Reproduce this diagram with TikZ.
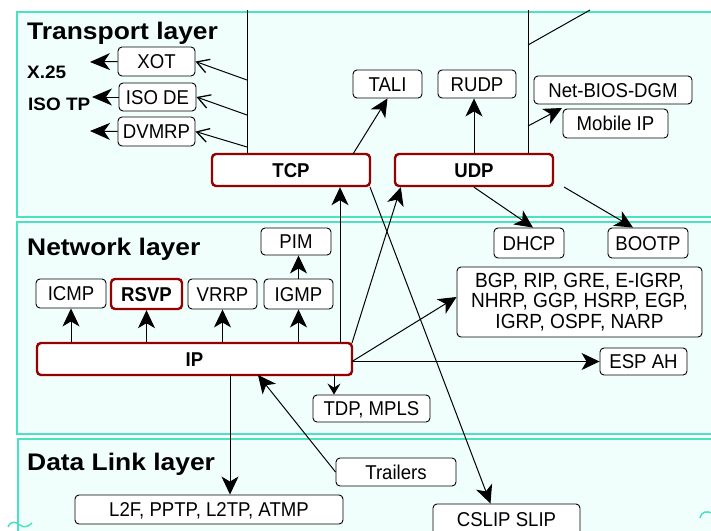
\documentclass[tikz,border=0pt]{standalone}
\usepackage{fontspec}
\setmainfont{Liberation Sans}
\newfontfamily\boxfont[FakeStretch=0.93]{Liberation Sans}
\newfontfamily\titlefont[FakeStretch=1.1]{Liberation Sans}
\newfontfamily\labfont[FakeStretch=1.05]{Liberation Sans}
\usetikzlibrary{arrows.meta,calc}
\definecolor{panelline}{RGB}{72,226,196}
\definecolor{panelfill}{RGB}{240,255,251}
\definecolor{darkred}{RGB}{150,0,0}
\tikzset{
  panel/.style={draw=panelline, line width=2pt, fill=panelfill},
  bx/.style={draw=black, line width=0.9pt, fill=white, rounded corners=4pt, inner sep=0pt,
    font=\boxfont\fontsize{20}{20}\selectfont},
  pbox/.style={bx, text height=14pt, text depth=0pt},
  rbox/.style={bx, draw=darkred, line width=2.4pt, text height=14pt, text depth=0pt,
    font=\boxfont\bfseries\fontsize{20}{20}\selectfont},
  title/.style={inner sep=0pt, anchor=base west, font=\titlefont\bfseries\fontsize{24}{24}\selectfont},
  lab/.style={inner sep=0pt, anchor=base west, font=\labfont\bfseries\fontsize{18}{18}\selectfont},
  ln/.style={draw=black, line width=1pt},
  big/.style={-{Stealth[length=18pt,width=17pt,inset=5pt]}},
  bigl/.style={-{Stealth[length=20pt,width=17pt,inset=6pt]}},
  small/.style={-{Stealth[length=11pt,width=13pt,inset=4pt]}},
  barb/.style={-{Straight Barb[length=12pt,width=14pt,line width=1.3pt]}},
  squig/.style={draw=panelline, line width=1.5pt}
}
\begin{document}
\begin{tikzpicture}[x=1pt,y=-1pt]
\useasboundingbox (0,0) rectangle (711,530);
\begin{scope}
\clip (0,0) rectangle (711,530);
% layer panels
\draw[panel] (17,12) rectangle (730,217);
\draw[panel] (17,222) rectangle (730,434);
\draw[panel] (18,439) rectangle (730,560);
\draw[squig] (8,527) .. controls (11,520) and (16,522) .. (20,525) .. controls (24,528) and (28,527) .. (32,523);
\draw[squig] (700,518) .. controls (702,511) and (706,511) .. (712,513);

% titles and labels
\node[title] (tl) at (27,39) {Transport layer};
\node[title] (nl) at (27,255) {Network layer};
\node[title] (dl) at (27,470) {Data Link layer};
\node[lab] (x25) at (27,78) {X.25};
\node[lab] (isotp) at (28,110) {ISO TP};

% transport layer boxes
\node[pbox, minimum width=77, minimum height=29] (xot) at (156.5,61.5) {XOT};
\node[pbox, minimum width=77, minimum height=28] (isode) at (157.5,97) {ISO DE};
\node[pbox, minimum width=77, minimum height=29] (dvmrp) at (156.5,131.5) {DVMRP};
\node[pbox, minimum width=69, minimum height=28] (tali) at (387.5,84) {TALI};
\node[pbox, minimum width=78, minimum height=28] (rudp) at (477,84) {RUDP};
\node[pbox, minimum width=158, minimum height=28] (netbios) at (613,90) {Net-BIOS-DGM};
\node[pbox, minimum width=105, minimum height=29] (mobip) at (615.5,123.5) {Mobile IP};
\node[rbox, minimum width=158, minimum height=32] (tcp) at (291,170) {TCP};
\node[rbox, minimum width=158, minimum height=32] (udp) at (474,170) {UDP};

% network layer boxes
\node[pbox, minimum width=70, minimum height=30] (dhcp) at (529,243) {DHCP};
\node[pbox, minimum width=80, minimum height=30] (bootp) at (648,243) {BOOTP};
\node[pbox, minimum width=70, minimum height=27] (pim) at (296,241.5) {PIM};
\node[pbox, minimum width=70, minimum height=29] (icmp) at (71,293.5) {ICMP};
\node[rbox, minimum width=71, minimum height=30] (rsvp) at (146.5,294) {RSVP};
\node[pbox, minimum width=69, minimum height=30] (vrrp) at (222.5,294) {VRRP};
\node[pbox, minimum width=69, minimum height=30] (igmp) at (298.5,294) {IGMP};
\node[bx, minimum width=245, minimum height=70, align=center,
  font=\boxfont\fontsize{20.5}{20.5}\selectfont] (bgp) at (579.5,302)
  {BGP, RIP, GRE, E-IGRP,\\NHRP, GGP, HSRP, EGP,\\IGRP, OSPF, NARP};
\node[rbox, minimum width=315, minimum height=32] (ip) at (194.5,359) {IP};
\node[pbox, minimum width=87, minimum height=27] (espah) at (643.5,361.5) {ESP AH};
\node[pbox, minimum width=117, minimum height=27] (tdp) at (371.5,408.5) {TDP, MPLS};

% data link boxes
\node[pbox, minimum width=120, minimum height=28] (trailers) at (396,472) {Trailers};
\node[pbox, minimum width=268, minimum height=29] (l2f) at (209,509.5) {L2F, PPTP, L2TP, ATMP};
\node[pbox, minimum width=147, minimum height=31] (cslip) at (506.5,519.5) {CSLIP SLIP};

% free ends
\coordinate (tv0) at (247,10);
\coordinate (tv1) at (247,80);
\coordinate (tv2) at (247,115);
\coordinate (tv3) at (247,147);
\coordinate (uv0) at (528,10);
\coordinate (uv1) at (528,45);
\coordinate (uvend) at (590,10);
\coordinate (uv2) at (528,126);
\coordinate (mip) at (562,108);
\coordinate (a1) at (90,62);
\coordinate (a2) at (92,97);
\coordinate (a3) at (90,131);
\coordinate (tcpt) at (353,154);
\coordinate (tcpse) at (370,187);
\coordinate (u2) at (564,187);
\coordinate (ipt) at (340,343);
\coordinate (ipne) at (352,343);
\coordinate (ipe) at (352,361.5);
\coordinate (ipb1) at (334,375);
\coordinate (ipb2) at (230,375);
\coordinate (ipb3) at (258,375);

% transport connectors
\draw[ln] (tv0) -- (tv0 |- tcp.north);
\draw[ln,barb] (tv1) -- (xot.east);
\draw[ln,barb] (tv2) -- (isode.east);
\draw[ln,barb] (tv3) -- (dvmrp.east);
\draw[ln,bigl] (xot.west) -- (a1);
\draw[ln,bigl] (isode.west) -- (a2);
\draw[ln,bigl] (dvmrp.west) -- (a3);
\draw[ln] (uv0) -- (uv0 |- udp.north);
\draw[ln] (uv1) -- (uvend);
\draw[ln,big] (uv2) -- (mip);
\draw[ln,big] (tcpt) -- (tali.south);
\draw[ln,big] (udp.north) -- (udp.north |- rudp.south);
\draw[ln,big] (udp.south) -- ($(dhcp.north)+(4,0)$);
\draw[ln,big] (u2) -- ($(bootp.north)+(-15,0)$);
\draw[ln,big] (tcpse) -- ($(cslip.north)+(-16,0)$);

% network connectors
\draw[ln,big] (ipt) -- (ipt |- tcp.south);
\draw[ln,big] (ipne) -- ($(udp.south west)+(7,0)$);
\draw[ln,big] (ipe) -- ($(bgp.west)+(0,-5)$);
\draw[ln,big] (ipe) -- (espah.west);
\draw[ln,big] (ip.north -| icmp) -- (icmp.south);
\draw[ln,big] (ip.north -| rsvp) -- (rsvp.south);
\draw[ln,big] (ip.north -| vrrp) -- (vrrp.south);
\draw[ln,big] (ip.north -| igmp) -- (igmp.south);
\draw[ln,big] (igmp.north) -- (igmp.north |- pim.south);
\draw[ln,small] (ipb1) -- (ipb1 |- tdp.north);
\draw[ln,big] (ipb2) -- (ipb2 |- l2f.north);
\draw[ln,big] (trailers.west) -- (ipb3);
\end{scope}
\end{tikzpicture}
\end{document}
